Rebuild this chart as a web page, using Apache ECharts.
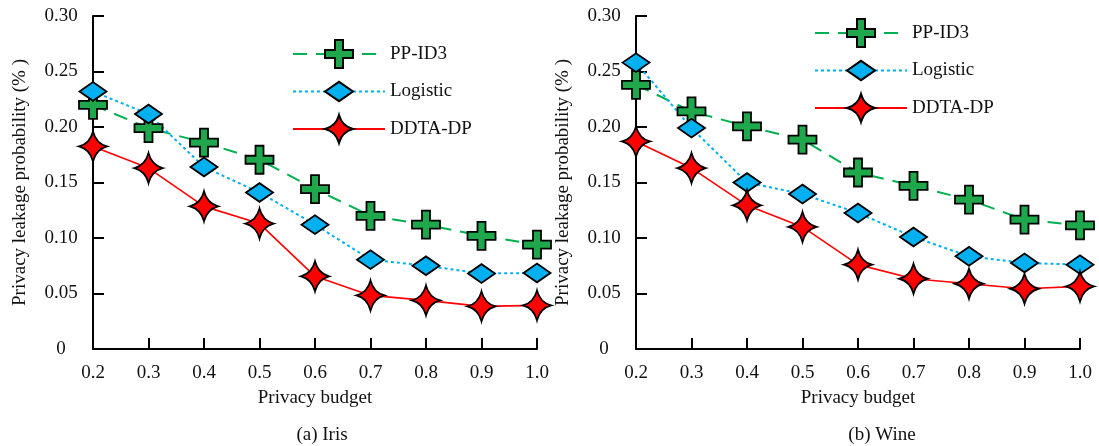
<!DOCTYPE html>
<html>
<head>
<meta charset="utf-8">
<script src="https://cdn.jsdelivr.net/npm/echarts@6/dist/echarts.min.js"></script>
<style>
  html, body { margin: 0; padding: 0; background: #fff; }
  #chart { width: 1099px; height: 446px; }
</style>
</head>
<body>
<div id="chart"></div>
<script>
// Privacy budget values on the x axis
const budgets = ['0.2', '0.3', '0.4', '0.5', '0.6', '0.7', '0.8', '0.9', '1.0'];
const yTicks = [0, 0.05, 0.10, 0.15, 0.20, 0.25, 0.30];

// (a) Iris
const irisPP = [0.220, 0.199, 0.186, 0.1705, 0.144, 0.120, 0.112, 0.102, 0.094];
const irisLogistic = [0.232, 0.2117, 0.164, 0.141, 0.112, 0.0805, 0.075, 0.068, 0.0685];
const irisDDTA = [0.1825, 0.163, 0.1285, 0.113, 0.0655, 0.0483, 0.0438, 0.0384, 0.0393];

// (b) Wine
const winePP = [0.238, 0.214, 0.2005, 0.1886, 0.159, 0.147, 0.1345, 0.1165, 0.1114];
const wineLogistic = [0.258, 0.199, 0.150, 0.1396, 0.1225, 0.1009, 0.0835, 0.0775, 0.076];
const wineDDTA = [0.187, 0.163, 0.1294, 0.110, 0.076, 0.0633, 0.0588, 0.0543, 0.0564];

const FONT = 'Liberation Serif';
const FS = 19;
const INK = '#111';

// marker shapes
const PLUS = 'path://M10,0 H18 V10 H28 V18 H18 V28 H10 V18 H0 V10 H10 Z';
const STAR = 'path://M14,0 Q17,12 28,15 Q17,18 14,30 Q11,18 0,15 Q11,12 14,0 Z';
// flat rhombus padded to a square box so it keeps its shape in the legend too
const DIAMOND = 'path://M0,13 L13,4 L26,13 L13,22 Z M0,0 M26,26';

const styles = {
  'PP-ID3': {
    symbol: PLUS, symbolSize: 28,
    line: { color: '#00b050', width: 2, type: [14, 9] },
    fill: '#1ea84b'
  },
  'Logistic': {
    symbol: DIAMOND, symbolSize: 27,
    line: { color: '#00b0f0', width: 2, type: [3, 3] },
    fill: '#00b0f0'
  },
  'DDTA-DP': {
    symbol: STAR, symbolSize: [28, 30],
    line: { color: '#ff0000', width: 1.6, type: 'solid' },
    fill: '#ff0000'
  }
};

function makeSeries(name, values, idx) {
  const s = styles[name];
  return {
    name: name,
    type: 'line',
    xAxisIndex: idx,
    yAxisIndex: idx,
    data: values,
    symbol: s.symbol,
    symbolSize: s.symbolSize,
    showSymbol: true,
    lineStyle: s.line,
    itemStyle: { color: s.fill, borderColor: '#000', borderWidth: 1.8 },
    emphasis: { disabled: true },
    animation: false
  };
}

function xAxis(idx) {
  return {
    type: 'category',
    gridIndex: idx,
    data: budgets,
    boundaryGap: false,
    name: 'Privacy budget',
    nameLocation: 'middle',
    nameGap: 40,
    nameTextStyle: { fontFamily: FONT, fontSize: FS, color: INK },
    axisLine: { lineStyle: { color: '#000', width: 2 } },
    axisTick: { inside: true, length: 11, lineStyle: { color: '#000', width: 2 } },
    axisLabel: { interval: 0, margin: 15, fontFamily: FONT, fontSize: FS, color: INK },
    splitLine: { show: false }
  };
}

function yAxis(idx) {
  return {
    type: 'value',
    gridIndex: idx,
    min: yTicks[0],
    max: yTicks[yTicks.length - 1],
    interval: 0.05,
    name: 'Privacy leakage probability (% )',
    nameLocation: 'middle',
    nameGap: 63,
    nameTextStyle: { fontFamily: FONT, fontSize: FS, color: INK },
    axisLine: { show: true, lineStyle: { color: '#000', width: 2 } },
    axisTick: { show: true, inside: true, length: 11, lineStyle: { color: '#000', width: 2 } },
    axisLabel: {
      align: 'center', margin: 32, fontFamily: FONT, fontSize: FS, color: INK,
      formatter: v => (v === 0 ? '0' : v.toFixed(2))
    },
    splitLine: { show: false }
  };
}

function legend(left, top) {
  return {
    orient: 'vertical',
    left: left,
    top: top,
    padding: 0,
    itemWidth: 92,
    itemHeight: 35,
    itemGap: 7.5,
    data: ['PP-ID3', 'Logistic', 'DDTA-DP'],
    textStyle: { fontFamily: FONT, fontSize: FS, color: INK },
    selectedMode: false
  };
}

const chart = echarts.init(document.getElementById('chart'), null, { renderer: 'canvas' });
chart.setOption({
  backgroundColor: '#fff',
  animation: false,
  title: [
    { text: '(a) Iris', left: 317, top: 421, textAlign: 'center',
      textStyle: { fontFamily: FONT, fontSize: FS, fontWeight: 'normal', color: INK } },
    { text: '(b) Wine', left: 877, top: 421, textAlign: 'center',
      textStyle: { fontFamily: FONT, fontSize: FS, fontWeight: 'normal', color: INK } }
  ],
  legend: [legend(292, 39), legend(814, 18)],
  grid: [
    { left: 93, right: 562, top: 16, bottom: 97, outerBoundsMode: 'none' },
    { left: 636, right: 19, top: 16, bottom: 97, outerBoundsMode: 'none' }
  ],
  xAxis: [xAxis(0), xAxis(1)],
  yAxis: [yAxis(0), yAxis(1)],
  series: [
    makeSeries('PP-ID3', irisPP, 0),
    makeSeries('Logistic', irisLogistic, 0),
    makeSeries('DDTA-DP', irisDDTA, 0),
    makeSeries('PP-ID3', winePP, 1),
    makeSeries('Logistic', wineLogistic, 1),
    makeSeries('DDTA-DP', wineDDTA, 1)
  ]
});
</script>
</body>
</html>
